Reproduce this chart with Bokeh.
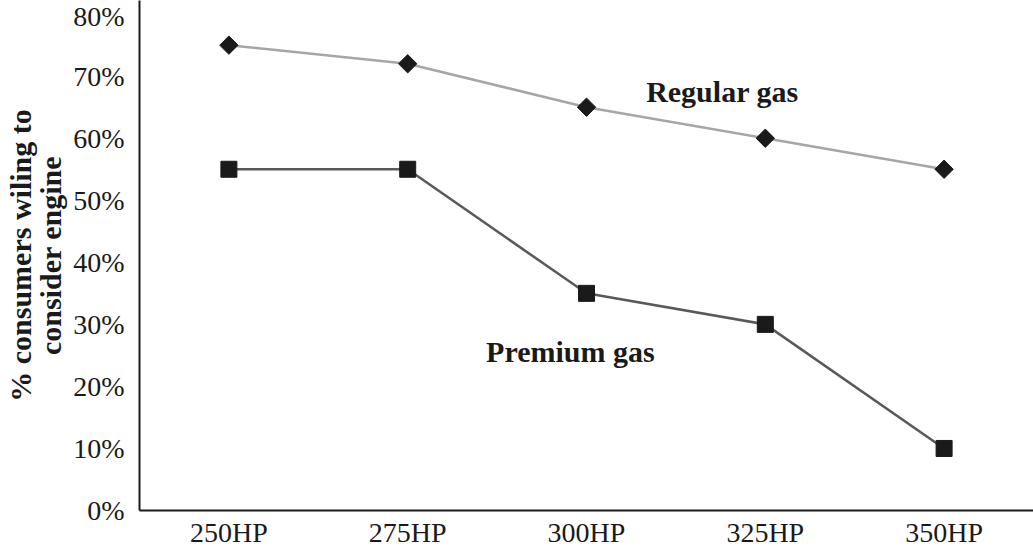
import math
from bokeh.plotting import figure
from bokeh.models import Label, PrintfTickFormatter, FixedTicker
from bokeh.embed import file_html
from bokeh.resources import INLINE

categories = ["250HP", "275HP", "300HP", "325HP", "350HP"]
regular_gas = [75, 72, 65, 60, 55]
premium_gas = [55, 55, 35, 30, 10]
y_ticks = [0, 10, 20, 30, 40, 50, 60, 70, 80]
y_title = "% consumers wiling to\nconsider engine"

FONT = "Liberation Serif"

p = figure(x_range=categories, y_range=(0, 82.2), width=1033, height=550,
           output_backend="svg", toolbar_location=None,
           min_border_left=139, min_border_right=0, min_border_top=0, min_border_bottom=37)
p.x_range.range_padding = 0
p.outline_line_color = None
p.grid.visible = False
p.background_fill_color = "white"
p.border_fill_color = "white"

p.line(categories, regular_gas, line_color="#a6a6a6", line_width=2.5)
p.scatter(categories, regular_gas, marker="square", angle=math.pi / 4, size=13,
          fill_color="#1a1a1a", line_color="#1a1a1a")
p.line(categories, premium_gas, line_color="#595959", line_width=2.5)
p.scatter(categories, premium_gas, marker="square", size=16, fill_color="#1a1a1a", line_color="#1a1a1a")

for ax in (p.xaxis[0], p.yaxis[0]):
    ax.major_tick_line_color = None
    ax.minor_tick_line_color = None
    ax.axis_line_color = "#1a1a1a"
    ax.axis_line_width = 2
    ax.major_label_text_font = FONT
    ax.major_label_text_font_size = "28px"
    ax.major_label_text_color = "#1a1a1a"

p.yaxis.ticker = FixedTicker(ticks=y_ticks)
p.yaxis.formatter = PrintfTickFormatter(format="%d%%")
p.yaxis.major_label_standoff = 9
p.xaxis.major_label_standoff = 0
p.xaxis.major_label_text_line_height = 0.85

p.yaxis.axis_label = y_title
p.yaxis.axis_label_text_font = FONT
p.yaxis.axis_label_text_font_style = "bold"
p.yaxis.axis_label_text_font_size = "30px"
p.yaxis.axis_label_text_color = "#1a1a1a"
p.yaxis.axis_label_text_line_height = 0.9
p.yaxis.axis_label_standoff = 3

p.add_layout(Label(x=3.26, y=67.6, text="Regular gas", text_font=FONT, text_font_style="bold",
                   text_font_size="30px", text_color="#1a1a1a", text_align="center", text_baseline="middle"))
p.add_layout(Label(x=2.41, y=25.6, text="Premium gas", text_font=FONT, text_font_style="bold",
                   text_font_size="30px", text_color="#1a1a1a", text_align="center", text_baseline="middle"))

open("out.html", "w").write(file_html(p, INLINE))
